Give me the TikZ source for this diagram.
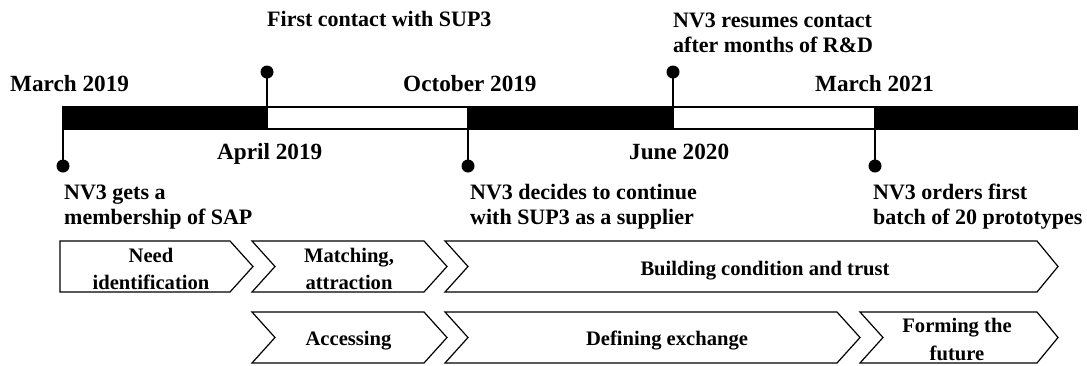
\documentclass[tikz,border=0pt]{standalone}
\usepackage{fontspec}
\setmainfont{Liberation Serif}
\begin{document}
\begin{tikzpicture}[x=1pt,y=-1pt,
  datelbl/.style={font=\bfseries\fontsize{23.2}{27}\selectfont, inner sep=0pt, anchor=base west},
  evt/.style={font=\bfseries\fontsize{22}{25}\selectfont, inner sep=0pt, align=left, anchor=base west},
  phase/.style={font=\bfseries\fontsize{20.6}{27.5}\selectfont, inner sep=0pt, align=center, anchor=base},
  blackseg/.style={draw=black, fill=black, line width=1.4pt},
  whiteseg/.style={draw=black, fill=white, line width=1.4pt},
  pinline/.style={draw=black, line width=1.4pt},
  pindot/.style={circle, fill=black, inner sep=0pt, minimum size=13pt},
  chev/.style={draw=black, line width=1.2pt, fill=white, line join=miter}
]
\useasboundingbox (0,0) rectangle (1087,365);

% timeline bar
\draw[blackseg] (63,107) rectangle (267,129);
\draw[whiteseg] (267,107) rectangle (468,129);
\draw[blackseg] (468,107) rectangle (673,129);
\draw[whiteseg] (673,107) rectangle (875,129);
\draw[blackseg] (875,107) rectangle (1077,129);

% pins
\coordinate (b1) at (63,129);
\coordinate (b2) at (267,107);
\coordinate (b3) at (468,129);
\coordinate (b4) at (673,107);
\coordinate (b5) at (875,129);
\node[pindot] (d1) at (63,166) {};
\node[pindot] (d2) at (267,72) {};
\node[pindot] (d3) at (468,166) {};
\node[pindot] (d4) at (673,72) {};
\node[pindot] (d5) at (875,166) {};
\draw[pinline] (b1) -- (d1.center);
\draw[pinline] (b2) -- (d2.center);
\draw[pinline] (b3) -- (d3.center);
\draw[pinline] (b4) -- (d4.center);
\draw[pinline] (b5) -- (d5.center);

% date labels
\node[datelbl] (m19) at (10,91) {March 2019};
\node[datelbl] (a19) at (217,159) {April 2019};
\node[datelbl] (o19) at (403,91) {October 2019};
\node[datelbl] (j20) at (629,159) {June 2020};
\node[datelbl] (m21) at (815,91) {March 2021};

% events (base = last line's baseline)
\node[evt] (e1) at (64,224) {NV3 gets a\\membership of SAP};
\node[evt] (e2) at (267,26) {First contact with SUP3};
\node[evt] (e3) at (470,224) {NV3 decides to continue\\with SUP3 as a supplier};
\node[evt] (e4) at (673,52) {NV3 resumes contact\\after months of R\&D};
\node[evt] (e5) at (873,224) {NV3 orders first\\batch of 20 prototypes};

% chevrons row 1
\draw[chev] (60,241) -- (230,241) -- (253,266.5) -- (230,292) -- (60,292) -- cycle;
\draw[chev] (252,241) -- (424,241) -- (447,266.5) -- (424,292) -- (252,292) -- (275,266.5) -- cycle;
\draw[chev] (445,241) -- (1037,241) -- (1058,266.5) -- (1037,292) -- (445,292) -- (468,266.5) -- cycle;
% chevrons row 2
\draw[chev] (252,312) -- (424,312) -- (447,337.5) -- (424,363) -- (252,363) -- (275,337.5) -- cycle;
\draw[chev] (445,312) -- (837,312) -- (860,337.5) -- (837,363) -- (445,363) -- (468,337.5) -- cycle;
\draw[chev] (860,312) -- (1037,312) -- (1058,337.5) -- (1037,363) -- (860,363) -- (883,337.5) -- cycle;

% phase texts
\node[phase] (p1) at (151,289.5) {Need\\identification};
\node[phase] (p2) at (349,289.5) {Matching,\\attraction};
\node[phase] (p3) at (765,275) {Building condition and trust};
\node[phase] (p4) at (348.5,345.5) {Accessing};
\node[phase] (p5) at (667,345.5) {Defining exchange};
\node[phase] (p6) at (957,360) {Forming the\\future};
\end{tikzpicture}
\end{document}
